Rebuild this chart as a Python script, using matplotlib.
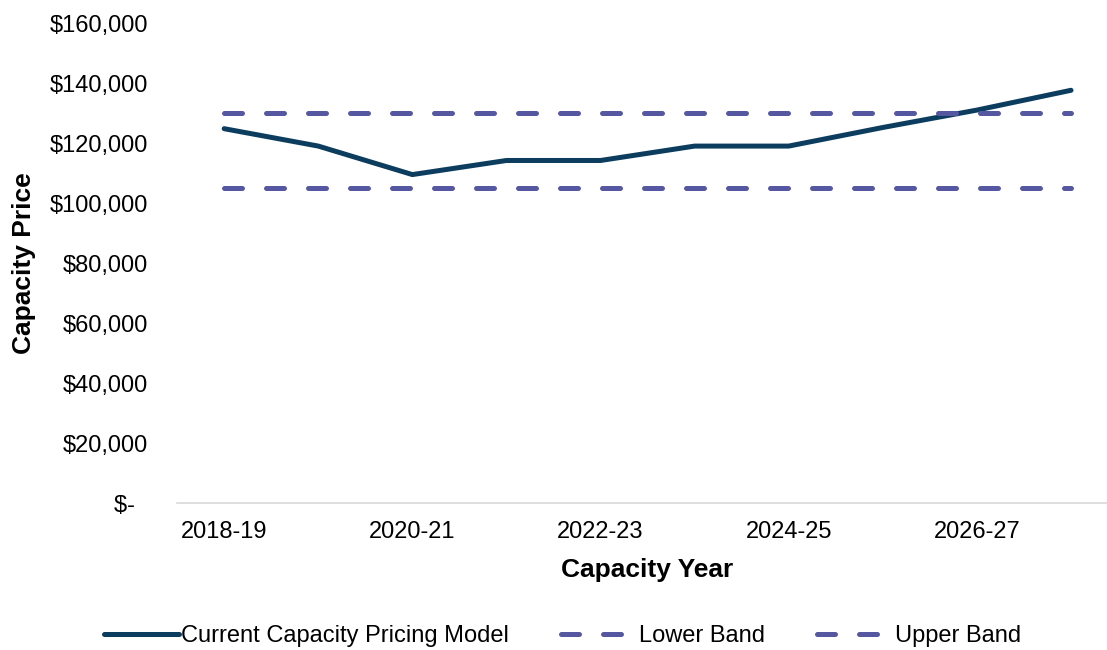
import matplotlib.pyplot as plt
from matplotlib.ticker import FuncFormatter

plt.rcParams['font.family'] = ['Liberation Sans', 'DejaVu Sans']

years = ["2018-19", "2019-20", "2020-21", "2021-22", "2022-23",
         "2023-24", "2024-25", "2025-26", "2026-27", "2027-28"]
current_model = [124800, 119000, 109500, 114200, 114200,
                 119000, 119000, 125200, 131000, 137600]
lower_band = [105000] * 10
upper_band = [130000] * 10


def money(v, pos):
    if v == 0:
        return "$-  "
    return f"${v:,.0f}"


def main():
    fig = plt.figure(figsize=(11.07, 6.5), dpi=100)
    ax = fig.add_axes([0.16, 0.226, 0.85, 0.7385])

    x = list(range(len(years)))
    navy = "#0c3d5f"
    purple = "#5557a1"

    ax.plot(x, current_model, color=navy, lw=3.6, solid_capstyle='round',
            solid_joinstyle='round', label="Current Capacity Pricing Model")
    ax.plot(x, lower_band, color=purple, lw=3.6, dashes=(3.6, 4.8),
            dash_capstyle='round', label="Lower Band")
    ax.plot(x, upper_band, color=purple, lw=3.6, dashes=(3.6, 4.8),
            dash_capstyle='round', label="Upper Band")

    ax.set_ylim(0, 160000)
    ax.set_yticks(range(0, 160001, 20000))
    ax.yaxis.set_major_formatter(FuncFormatter(money))
    ax.set_xlim(-0.5, 9.5)
    ax.set_xticks(x[::2])
    ax.set_xticklabels(years[::2])

    for side in ["top", "right", "left"]:
        ax.spines[side].set_visible(False)
    ax.spines["bottom"].set_color("#d9d9d9")
    ax.spines["bottom"].set_linewidth(1.2)
    ax.tick_params(axis='both', length=0, labelsize=17, colors="black")
    ax.tick_params(axis='x', pad=13)
    ax.tick_params(axis='y', pad=21)

    ax.set_xlabel("Capacity Year", fontsize=19, fontweight='bold', labelpad=11)
    ax.set_ylabel("Capacity Price", fontsize=19, fontweight='bold', labelpad=10)

    fig.legend(loc='center', bbox_to_anchor=(0.508, 0.021), ncol=3, frameon=False,
               fontsize=17, handlelength=3.2, handletextpad=0.1, columnspacing=2.2)

    fig.savefig("out.png", dpi=100)


if __name__ == '__main__':
    main()
